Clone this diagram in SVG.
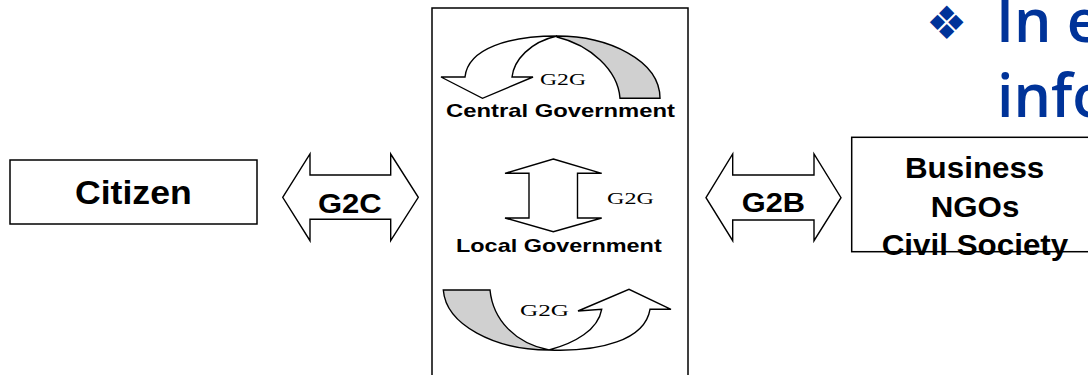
<svg xmlns="http://www.w3.org/2000/svg" width="1088" height="375" viewBox="0 0 1088 375">
<style>
.box{fill:#fff;stroke:#000;stroke-width:1.5}
.arw{fill:#fff;stroke:#000;stroke-width:1.4;stroke-linejoin:miter}
.gry{fill:#d0d0d0;stroke:#000;stroke-width:1.4}
.lbl{font-family:"Liberation Sans",Arial,sans-serif;font-weight:bold;fill:#000}
.ser{font-family:"Liberation Serif","Times New Roman",serif;fill:#000;font-size:16.5px}
.ttl{font-family:"Open Sans","Noto Sans",sans-serif;font-weight:600;fill:#003399;font-size:59px}
</style>
<rect width="1088" height="375" fill="#fff"/>

<g id="title">
<text x="946.5" y="38.5" font-family="'DejaVu Sans',sans-serif" font-size="46" fill="#003399" text-anchor="middle">❖</text>
<text class="ttl" x="996" y="41.7">In e</text>
<text class="ttl" x="997" y="117.3">info</text>
</g>

<g id="node-citizen">
<rect class="box" x="10" y="160" width="247" height="64"/>
<text class="lbl" x="75" y="204.3" font-size="34" textLength="116.7" lengthAdjust="spacingAndGlyphs">Citizen</text>
</g>

<g id="node-government">
<rect class="box" x="432" y="8" width="256" height="380"/>
<text class="lbl" x="446" y="116.5" font-size="19" textLength="229" lengthAdjust="spacingAndGlyphs">Central Government</text>
<text class="lbl" x="456" y="251.5" font-size="19" textLength="205.7" lengthAdjust="spacingAndGlyphs">Local Government</text>
</g>

<g id="node-business">
<rect class="box" x="851.7" y="137.3" width="260" height="114.4"/>
<text class="lbl" x="905" y="178.3" font-size="29" textLength="139.3" lengthAdjust="spacingAndGlyphs">Business</text>
<text class="lbl" x="930.7" y="217.3" font-size="29" textLength="88.6" lengthAdjust="spacingAndGlyphs">NGOs</text>
<text class="lbl" x="881.7" y="255" font-size="29" textLength="186.6" lengthAdjust="spacingAndGlyphs">Civil Society</text>
</g>

<g id="connectors">
<g id="g2c">
<path class="arw" d="M282.7,197.3 L310,154 L310,175 L390.7,175 L390.7,154 L418.3,197.3 L390.7,240.7 L390.7,219.3 L310,219.3 L310,240.7 Z"/>
<text class="lbl" x="318" y="212.7" font-size="28" textLength="63.7" lengthAdjust="spacingAndGlyphs">G2C</text>
</g>
<g id="g2b">
<path class="arw" d="M706,197.7 L732.7,154 L732.7,175 L814,175 L814,154 L841,197.7 L814,240.7 L814,220 L732.7,220 L732.7,240.7 Z"/>
<text class="lbl" x="741.7" y="212.3" font-size="28" textLength="63.3" lengthAdjust="spacingAndGlyphs">G2B</text>
</g>
<g id="g2g-central">
<path class="gry" d="M557,36 C608,36 660,60 660,98.3 L620,98.3 C618,70 590,45 557,37 Z"/>
<path class="arw" d="M465,77 C468,48 510,36 557,36 C530,42 514,60 512,77 L533,77 L482.5,98.3 L441,77 Z"/>
<text class="ser" x="540" y="85" textLength="46" lengthAdjust="spacingAndGlyphs">G2G</text>
</g>
<g id="g2g-mid">
<path class="arw" d="M553.3,159 L601.7,173.3 L577.5,173.3 L577.5,218 L601.7,218 L553.3,231.7 L505,218 L529,218 L529,173.3 L505,173.3 Z"/>
<text class="ser" x="607" y="204" textLength="47" lengthAdjust="spacingAndGlyphs">G2G</text>
</g>
<g id="g2g-local">
<path class="gry" d="M443.3,290 L490,290 C493,320 515,343 549,350 C495,350 446,325 443.3,290 Z"/>
<path class="arw" d="M549,350 C600,352 645,340 650,309.3 L671,309.3 L629,289.3 L578,311 L601.7,309.3 C598,330 575,343 549,350 Z"/>
<text class="ser" x="520" y="316" textLength="49" lengthAdjust="spacingAndGlyphs">G2G</text>
</g>
</g>
</svg>
